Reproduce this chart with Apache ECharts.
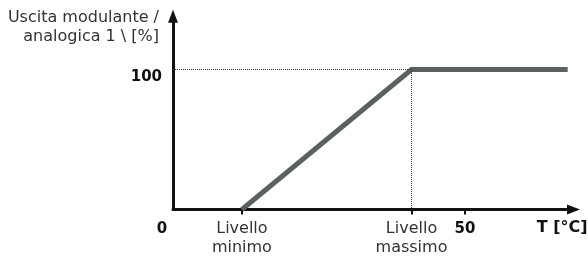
<!DOCTYPE html>
<html>
<head>
<meta charset="utf-8">
<script src="https://cdn.jsdelivr.net/npm/echarts@6/dist/echarts.min.js"></script>
<style>
html, body { margin: 0; padding: 0; background: #fff; }
#chart { width: 588px; height: 258px; }
</style>
</head>
<body>
<div id="chart"></div>
<script>
// curve points (T, output %)
var outputX = [11.8, 40.85, 67.6];
var outputY = [0, 100, 100];

// x axis ticks and labels
var xTickValues = [11.8, 40.85, 50];
var xLabelValues = [0, 11.8, 40.85, 50];
var xLabelTexts = ["0", "Livello\nminimo", "Livello\nmassimo", "50"];
var yLabelValues = [100];
var yLabelTexts = ["100"];

var xMax = 68.6;
var yMax = 138;

var chart = echarts.init(document.getElementById("chart"));

function xLabel(v) {
	for (var i = 0; i < xLabelValues.length; i++) {
		if (Math.abs(xLabelValues[i] - v) < 0.01) {
			var t = xLabelTexts[i];
			if (t == "0") return "{z|0}";
			if (t.indexOf("\n") < 0) return "{b|" + t + "}";
			return t.split("\n").map(function (s) { return "{n|" + s + "}"; }).join("\n");
		}
	}
	return "";
}

var font = "DejaVu Sans";
var dots = { color: "#333", width: 1, type: [1, 1] };

chart.setOption({
	animation: false,
	grid: {
		left: 173,
		right: 14.5,
		top: 16.3,
		bottom: 48.5,
		outerBoundsMode: "none",
	},
	xAxis: {
		type: "value",
		min: 0,
		max: xMax,
		name: "T [°C]",
		nameLocation: "end",
		nameGap: 14,
		nameTextStyle: {
			fontFamily: font,
			fontWeight: "bold",
			fontSize: 16,
			color: "#111",
			align: "right",
			verticalAlign: "top",
			lineHeight: 19,
			padding: [9, 0, 0, 0],
		},
		axisLine: {
			lineStyle: { color: "#111", width: 3 },
			symbol: ["none", "triangle"],
			symbolSize: [10, 13],
		},
		axisTick: {
			show: true,
			customValues: xTickValues,
			length: 5,
			lineStyle: { color: "#111", width: 2 },
		},
		axisLabel: {
			customValues: xLabelValues,
			margin: 10,
			formatter: xLabel,
			rich: {
				n: { fontFamily: font, fontSize: 16, color: "#333", lineHeight: 19 },
				b: { fontFamily: font, fontSize: 15, fontWeight: "bold", color: "#111", lineHeight: 19 },
				z: { fontFamily: font, fontSize: 15, fontWeight: "bold", color: "#111", lineHeight: 19, padding: [0, 22, 0, 0] },
			},
		},
		splitLine: { show: false },
	},
	yAxis: {
		type: "value",
		min: 0,
		max: yMax,
		name: "Uscita modulante /\nanalogica 1 \\ [%]",
		nameLocation: "end",
		nameGap: 8,
		nameTextStyle: {
			fontFamily: font,
			fontSize: 16,
			color: "#333",
			align: "right",
			verticalAlign: "top",
			lineHeight: 19,
			padding: [0, 14, 0, 0],
		},
		axisLine: {
			show: true,
			lineStyle: { color: "#111", width: 3 },
			symbol: ["none", "triangle"],
			symbolSize: [10, 13],
		},
		axisTick: { show: false },
		axisLabel: {
			customValues: yLabelValues,
			margin: 11,
			verticalAlign: "top",
			fontFamily: font,
			fontSize: 15,
			fontWeight: "bold",
			color: "#111",
			formatter: function (v) {
				var i = yLabelValues.indexOf(v);
				return i >= 0 ? yLabelTexts[i] : "";
			},
		},
		splitLine: { show: false },
	},
	series: [
		{
			type: "line",
			data: outputX.map(function (x, i) { return [x, outputY[i]]; }),
			symbol: "none",
			lineStyle: { color: "#5c6061", width: 5, join: "miter", cap: "butt" },
			markLine: {
				silent: true,
				symbol: ["none", "none"],
				label: { show: false },
				lineStyle: dots,
				data: [
					[{ coord: [0, outputY[1]] }, { coord: [outputX[1], outputY[1]] }],
					[
						{ coord: [outputX[1], outputY[1]], lineStyle: { color: "#333", width: 1, type: [1, 1], dashOffset: 0.5 } },
						{ coord: [outputX[1], 0] },
					],
				],
			},
			z: 1,
		},
	],
});
</script>
</body>
</html>
